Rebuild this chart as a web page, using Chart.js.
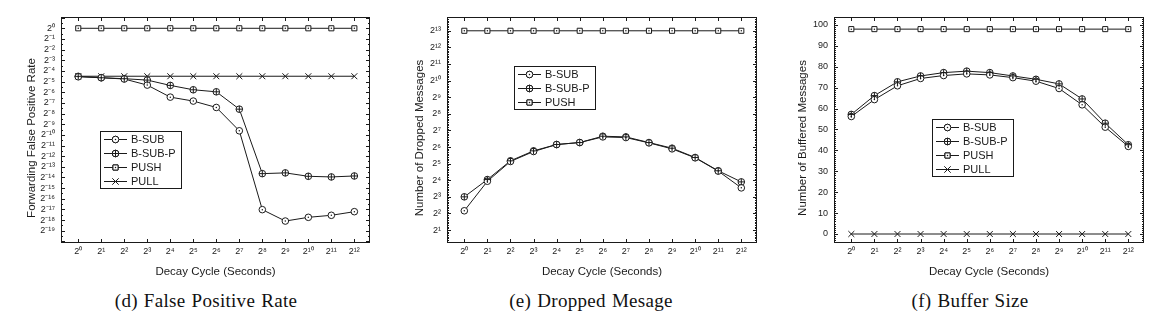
<!DOCTYPE html>
<html>
<head>
<meta charset="utf-8">
<script src="https://cdn.jsdelivr.net/npm/chart.js@4.4.1/dist/chart.umd.min.js"></script>
<style>
  body { margin: 0; background: #fff; }
  #page { position: relative; width: 1174px; height: 327px; overflow: hidden; background: #fff; }
  #page canvas { position: absolute; top: 0; }
  .caption {
    position: absolute; top: 289px; transform: translateX(-50%);
    font-family: 'Liberation Serif', 'DejaVu Serif', serif; font-size: 19px;
    letter-spacing: 0.3px; word-spacing: 1px; line-height: 24px;
    color: #111; white-space: nowrap;
  }
</style>
</head>
<body>
<div id="page">
  <div class="caption" style="left:206px">(d) False Positive Rate</div>
  <div class="caption" style="left:591px">(e) Dropped Mesage</div>
  <div class="caption" style="left:970px">(f) Buffer Size</div>
</div>
<script>
// decay cycle, as powers of two (2^0 .. 2^12 seconds)
const cycleExp = [0, 1, 2, 3, 4, 5, 6, 7, 8, 9, 10, 11, 12];

// (d) forwarding false positive rate, stored as log2 of the rate
const fprBSub  = [-4.55, -4.64, -4.76, -5.33, -6.46, -6.83, -7.43, -9.62, -17.02, -18.09, -17.74, -17.55, -17.21];
const fprBSubP = [-4.51, -4.64, -4.73, -4.86, -5.36, -5.77, -5.96, -7.59, -13.64, -13.57, -13.89, -13.95, -13.86];
const fprPush  = [0, 0, 0, 0, 0, 0, 0, 0, 0, 0, 0, 0, 0];
const fprPull  = [-4.5, -4.5, -4.5, -4.5, -4.5, -4.5, -4.5, -4.5, -4.5, -4.5, -4.5, -4.5, -4.5];
const fprTicks = [0, -1, -2, -3, -4, -5, -6, -7, -8, -9, -10, -11, -12, -13, -14, -15, -16, -17, -18, -19];

// (e) dropped messages, stored as log2 of the count
const dropBSub  = [2.16, 3.94, 5.13, 5.73, 6.15, 6.27, 6.61, 6.57, 6.25, 5.89, 5.35, 4.55, 3.54];
const dropBSubP = [3.0, 4.04, 5.17, 5.77, 6.15, 6.27, 6.65, 6.61, 6.27, 5.93, 5.37, 4.57, 3.9];
const dropPush  = [13, 13, 13, 13, 13, 13, 13, 13, 13, 13, 13, 13, 13];
const dropTicks = [1, 2, 3, 4, 5, 6, 7, 8, 9, 10, 11, 12, 13];

// (f) number of buffered messages
const bufBSub  = [56.2, 64.3, 70.9, 74.4, 75.8, 76.6, 76.1, 74.8, 73.1, 69.6, 61.8, 51.1, 41.9];
const bufBSubP = [57.2, 66.2, 72.8, 75.6, 77.2, 77.9, 77.2, 75.6, 74.0, 71.8, 64.6, 53.0, 42.7];
const bufPush  = [98, 98, 98, 98, 98, 98, 98, 98, 98, 98, 98, 98, 98];
const bufPull  = [0, 0, 0, 0, 0, 0, 0, 0, 0, 0, 0, 0, 0];
const bufTicks = [0, 10, 20, 30, 40, 50, 60, 70, 80, 90, 100];

const INK = '#1a1a1a';
const SANS = "'Liberation Sans', Arial, sans-serif";
const SUP = { '-': '\u207B', '0': '\u2070', '1': '\u00B9', '2': '\u00B2', '3': '\u00B3',
  '4': '\u2074', '5': '\u2075', '6': '\u2076', '7': '\u2077', '8': '\u2078', '9': '\u2079' };

function pow2Label(e) {
  return '2' + String(e).split('').map(c => SUP[c]).join('');
}

// point style per series: built-in shape + radius, plus an inner mark drawn on top
const styles = {
  'B-SUB':   { shape: 'circle',   radius: 3.3, inner: 'dot' },
  'B-SUB-P': { shape: 'circle',   radius: 3.3, inner: 'plus' },
  'PUSH':    { shape: 'rect',     radius: 3.6, inner: 'dot' },
  'PULL':    { shape: 'crossRot', radius: 4.2, inner: null }
};

function drawInner(ctx, name, x, y) {
  const s = styles[name];
  if (s.inner === 'dot') {
    ctx.beginPath();
    ctx.arc(x, y, 0.75, 0, Math.PI * 2);
    ctx.fill();
  } else if (s.inner === 'plus') {
    ctx.beginPath();
    ctx.moveTo(x - s.radius, y); ctx.lineTo(x + s.radius, y);
    ctx.moveTo(x, y - s.radius); ctx.lineTo(x, y + s.radius);
    ctx.stroke();
  }
}

// dots and crosses inside the hollow markers
const innerMarks = {
  id: 'innerMarks',
  afterDatasetsDraw(chart) {
    const ctx = chart.ctx;
    ctx.save();
    ctx.strokeStyle = INK;
    ctx.fillStyle = INK;
    ctx.lineWidth = 1;
    chart.data.datasets.forEach((ds, i) => {
      chart.getDatasetMeta(i).data.forEach(pt => drawInner(ctx, ds.label, pt.x, pt.y));
    });
    ctx.restore();
  }
};

// box frame, inward tick marks, axis titles and the inset legend
const framePlugin = {
  id: 'frame',
  afterDraw(chart, args, opts) {
    const { ctx, chartArea: a, scales: { x, y } } = chart;
    ctx.save();
    ctx.strokeStyle = INK;
    ctx.lineWidth = 1;
    ctx.strokeRect(a.left + 0.5, a.top + 0.5, a.right - a.left - 1, a.bottom - a.top - 1);

    ctx.beginPath();
    cycleExp.forEach(v => {
      const px = Math.round(x.getPixelForValue(v)) + 0.5;
      ctx.moveTo(px, a.bottom); ctx.lineTo(px, a.bottom - 4);
      ctx.moveTo(px, a.top); ctx.lineTo(px, a.top + 4);
    });
    const n0 = Math.ceil(y.min / opts.minor), n1 = Math.floor(y.max / opts.minor);
    for (let n = n0; n <= n1; n++) {
      const v = n * opts.minor;
      const r = v / opts.major;
      const len = Math.abs(r - Math.round(r)) < 1e-6 ? 4 : 2;
      const py = Math.round(y.getPixelForValue(v)) + 0.5;
      ctx.moveTo(a.left, py); ctx.lineTo(a.left + len, py);
      ctx.moveTo(a.right, py); ctx.lineTo(a.right - len, py);
    }
    ctx.stroke();

    // axis titles
    ctx.fillStyle = INK;
    ctx.font = '11.5px ' + SANS;
    ctx.textAlign = 'center';
    ctx.textBaseline = 'middle';
    ctx.fillText('Decay Cycle (Seconds)', (a.left + a.right) / 2, 272);
    ctx.save();
    ctx.translate(opts.yTitleX, 138);
    ctx.rotate(-Math.PI / 2);
    ctx.fillText(opts.yTitle, 0, 0);
    ctx.restore();

    // legend
    const b = opts.legend;
    const rowH = 14.3;
    const sets = chart.data.datasets;
    ctx.fillStyle = '#fff';
    ctx.fillRect(b.x, b.y, 82, sets.length * rowH + 1);
    ctx.strokeRect(b.x + 0.5, b.y + 0.5, 81, Math.round(sets.length * rowH));
    ctx.font = '11px ' + SANS;
    ctx.textAlign = 'left';
    sets.forEach((ds, i) => {
      const ry = Math.round(b.y + 7.5 + i * rowH) + 0.5;
      const mx = b.x + 15.5;
      const s = styles[ds.label];
      ctx.beginPath();
      ctx.moveTo(b.x + 4, ry); ctx.lineTo(b.x + 27, ry);
      ctx.stroke();
      Chart.helpers.drawPoint(ctx, { pointStyle: s.shape, radius: s.radius, borderWidth: 1 }, mx, ry);
      ctx.fillStyle = '#fff';
      if (s.shape !== 'crossRot') ctx.fill();
      ctx.stroke();
      ctx.fillStyle = INK;
      drawInner(ctx, ds.label, mx, ry);
      ctx.fillText(ds.label, b.x + 31, ry + 0.5);
    });
    ctx.restore();
  }
};

function makePanel(p) {
  const canvas = document.createElement('canvas');
  canvas.width = p.width;
  canvas.height = 290;
  canvas.style.left = p.left + 'px';
  document.getElementById('page').appendChild(canvas);

  const datasets = p.series.map(s => ({
    label: s.label,
    data: s.data.map((v, i) => ({ x: cycleExp[i], y: v })),
    borderColor: INK,
    borderWidth: 1,
    backgroundColor: '#fff',
    pointStyle: styles[s.label].shape,
    pointRadius: styles[s.label].radius,
    pointBorderColor: INK,
    pointBackgroundColor: '#fff',
    pointBorderWidth: 1,
    tension: 0
  }));

  new Chart(canvas.getContext('2d'), {
    type: 'line',
    data: { datasets },
    plugins: [innerMarks, framePlugin],
    options: {
      responsive: false,
      animation: false,
      layout: { padding: { left: 0, top: 17, right: p.padRight, bottom: 17 } },
      plugins: {
        legend: { display: false },
        tooltip: { enabled: false },
        frame: {
          major: p.major, minor: p.minor,
          yTitle: p.yTitle, yTitleX: p.yTitleX - p.left,
          legend: { x: p.legendX - p.left, y: p.legendY }
        }
      },
      scales: {
        x: {
          type: 'linear',
          min: -0.75,
          max: 12.68,
          grid: { display: false, drawTicks: false },
          border: { display: false },
          ticks: {
            padding: 3, autoSkip: false, maxRotation: 0, color: INK,
            font: { family: SANS, size: 9 },
            callback: v => pow2Label(v)
          },
          afterBuildTicks: s => { s.ticks = cycleExp.map(v => ({ value: v })); },
          afterFit: s => { s.height = 30; }
        },
        y: {
          type: 'linear',
          min: p.ymin,
          max: p.ymax,
          grid: { display: false, drawTicks: false },
          border: { display: false },
          ticks: {
            padding: 6, autoSkip: false, color: INK,
            font: { family: SANS, size: 9 },
            callback: p.yLabel
          },
          afterBuildTicks: s => { s.ticks = p.yTicks.map(v => ({ value: v })); },
          afterFit: s => { s.width = p.axisWidth; }
        }
      }
    }
  });
}

makePanel({
  left: 0, width: 390, axisWidth: 61, padRight: 20,
  ymin: -20.15, ymax: 1.06, yTicks: fprTicks, yLabel: pow2Label, major: 1, minor: 0.5,
  yTitle: 'Forwarding False Positive Rate', yTitleX: 32,
  legendX: 100, legendY: 131,
  series: [
    { label: 'B-SUB', data: fprBSub },
    { label: 'B-SUB-P', data: fprBSubP },
    { label: 'PUSH', data: fprPush },
    { label: 'PULL', data: fprPull }
  ]
});

makePanel({
  left: 390, width: 390, axisWidth: 57, padRight: 23,
  ymin: 0.22, ymax: 13.83, yTicks: dropTicks, yLabel: pow2Label, major: 1, minor: 0.1,
  yTitle: 'Number of Dropped Messages', yTitleX: 420,
  legendX: 514, legendY: 66,
  series: [
    { label: 'B-SUB', data: dropBSub },
    { label: 'B-SUB-P', data: dropBSubP },
    { label: 'PUSH', data: dropPush }
  ]
});

makePanel({
  left: 780, width: 394, axisWidth: 54, padRight: 30,
  ymin: -4.3, ymax: 103.8, yTicks: bufTicks, yLabel: v => String(v), major: 10, minor: 1,
  yTitle: 'Number of Buffered Messages', yTitleX: 803,
  legendX: 932, legendY: 119,
  series: [
    { label: 'B-SUB', data: bufBSub },
    { label: 'B-SUB-P', data: bufBSubP },
    { label: 'PUSH', data: bufPush },
    { label: 'PULL', data: bufPull }
  ]
});
</script>
</body>
</html>
